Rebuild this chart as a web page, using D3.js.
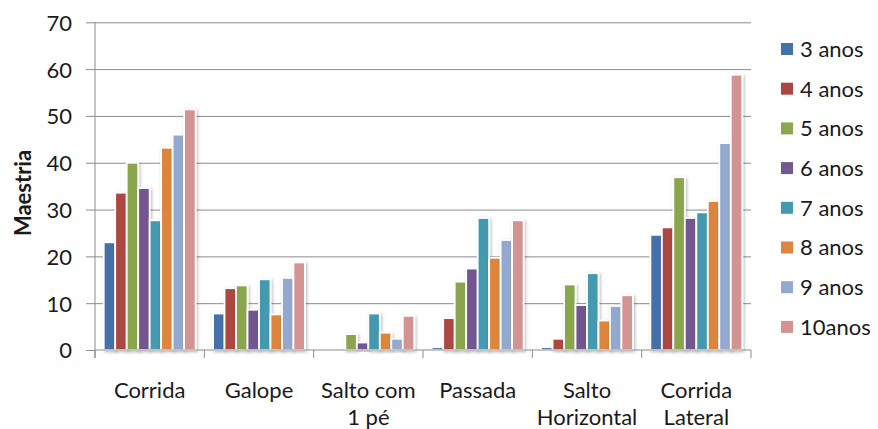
<!DOCTYPE html>
<html>
<head>
<meta charset="utf-8">
<script src="https://cdn.jsdelivr.net/npm/d3@7"></script>
<style>
  html, body { margin: 0; padding: 0; background: #fff; }
  svg { display: block; }
  text { font-family: Lato, "Open Sans", sans-serif; fill: #1a1a1a; }
</style>
</head>
<body>
<svg id="chart" width="878" height="429"></svg>
<script>
// Motor skill mastery by age group
const categories = ["Corrida", "Galope", "Salto com\n1 pé", "Passada", "Salto\nHorizontal", "Corrida\nLateral"];
const seriesNames = ["3 anos", "4 anos", "5 anos", "6 anos", "7 anos", "8 anos", "9 anos", "10anos"];
const seriesColors = ["#4471A8", "#AC4643", "#8AA64E", "#735790", "#4299B0", "#DD843E", "#93A9CF", "#D39392"];

// one array per age group, values in category order
const anos3  = [23.0,  7.8, 0.0,  0.6,  0.6, 24.6];
const anos4  = [33.6, 13.2, 0.0,  6.8,  2.4, 26.2];
const anos5  = [40.0, 13.8, 3.4, 14.6, 14.0, 36.9];
const anos6  = [34.6,  8.6, 1.6, 17.4,  9.6, 28.2];
const anos7  = [27.7, 15.1, 7.8, 28.2, 16.4, 29.4];
const anos8  = [43.2,  7.6, 3.7, 19.7,  6.3, 31.8];
const anos9  = [46.0, 15.4, 2.4, 23.5,  9.4, 44.2];
const anos10 = [51.4, 18.7, 7.3, 27.7, 11.7, 58.8];
const seriesValues = [anos3, anos4, anos5, anos6, anos7, anos8, anos9, anos10];

const yTicks = [0, 10, 20, 30, 40, 50, 60, 70];
const yTitle = "Maestria";

const svg = d3.select("#chart");
const plot = { left: 95, right: 751, top: 22.3, bottom: 350 };
const axisColor = "#8c8c8c";

const y = d3.scaleLinear().domain([0, 70]).range([plot.bottom, plot.top]);
const x0 = d3.scaleBand().domain(categories).range([plot.left, plot.right]).padding(0);
const x1 = d3.scaleBand().domain(seriesNames).range([0, x0.bandwidth()]).paddingInner(0).paddingOuter(0.76);

// soft shadow under the bars
const defs = svg.append("defs");
const f = defs.append("filter").attr("id", "shadow")
  .attr("x", "-50%").attr("y", "-10%").attr("width", "200%").attr("height", "130%");
f.append("feDropShadow").attr("dx", 1.2).attr("dy", 1.2).attr("stdDeviation", 1.4)
  .attr("flood-color", "#000").attr("flood-opacity", 0.28);

// gridlines + y axis
const yAxis = d3.axisLeft(y).tickValues(yTicks).tickSize(9).tickPadding(14);
const gy = svg.append("g").attr("transform", `translate(${plot.left},0)`).call(yAxis);
gy.select(".domain").attr("stroke", axisColor).attr("d", `M0,${plot.top}V${plot.bottom + 8}`);
gy.selectAll(".tick line").attr("stroke", axisColor);
gy.selectAll(".tick text").attr("font-size", 22).attr("font-family", "Lato, sans-serif")
  .attr("fill", "#1a1a1a").attr("dy", "0.36em");
gy.selectAll(".tick").filter(d => d !== 0).append("line")
  .attr("x1", 0).attr("x2", plot.right - plot.left).attr("stroke", axisColor).attr("stroke-width", 1);

// bars
const groups = svg.append("g").selectAll("g")
  .data(categories).join("g")
  .attr("transform", d => `translate(${x0(d)},0)`);

groups.selectAll("rect")
  .data((c, ci) => seriesNames.map((s, si) => ({ s, si, v: seriesValues[si][ci] })).filter(d => d.v > 0))
  .join("rect")
  .attr("x", d => x1(d.s))
  .attr("width", x1.bandwidth())
  .attr("y", d => y(d.v))
  .attr("height", d => y(0) - y(d.v))
  .attr("fill", d => seriesColors[d.si])
  .attr("stroke", "#fff")
  .attr("stroke-width", 1.8)
  .attr("filter", "url(#shadow)");

// x axis
const gx = svg.append("g").attr("transform", `translate(0,${plot.bottom})`);
gx.append("line").attr("x1", plot.left).attr("x2", plot.right)
  .attr("stroke", axisColor);
const bounds = categories.map(c => x0(c)).concat([plot.right]);
gx.selectAll("line.tick").data(bounds).join("line").attr("class", "tick")
  .attr("x1", d => d).attr("x2", d => d).attr("y1", 0).attr("y2", 8)
  .attr("stroke", axisColor);

const labels = gx.selectAll("text").data(categories).join("text")
  .attr("x", d => x0(d) + x0.bandwidth() / 2)
  .attr("y", 48)
  .attr("text-anchor", "middle")
  .attr("font-size", 22);
labels.each(function (d) {
  const t = d3.select(this);
  d.split("\n").forEach((line, i) => {
    t.append("tspan").attr("x", x0(d) + x0.bandwidth() / 2).attr("dy", i === 0 ? 0 : 27).text(line);
  });
});

// y title
svg.append("text")
  .attr("transform", "translate(31,193) rotate(-90)")
  .attr("text-anchor", "middle")
  .attr("font-size", 22)
  .attr("font-weight", "bold")
  .text(yTitle);

// legend
const legend = svg.append("g").selectAll("g").data(seriesNames).join("g")
  .attr("transform", (d, i) => `translate(781,${49 + i * 39.7})`);
legend.append("rect").attr("x", 0).attr("y", -6).attr("width", 12).attr("height", 12)
  .attr("fill", (d, i) => seriesColors[i]);
legend.append("text").attr("x", 19).attr("dy", "0.36em").attr("font-size", 22).text(d => d);
</script>
</body>
</html>
